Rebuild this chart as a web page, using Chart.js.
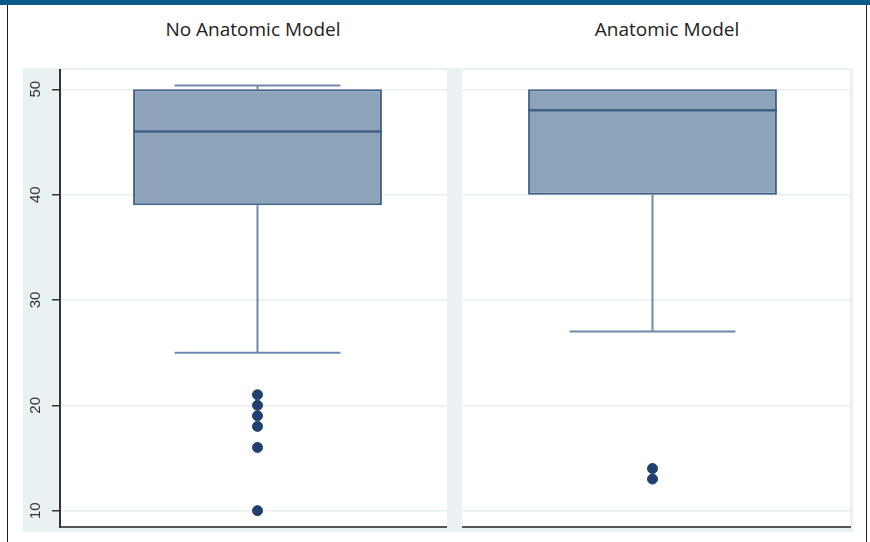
<!DOCTYPE html>
<html>
<head>
<meta charset="utf-8">
<script src="https://cdn.jsdelivr.net/npm/chart.js@4.4.1/dist/chart.umd.min.js"></script>
<style>
    body { margin: 0; background: #fff; }
    #wrap { position: relative; width: 870px; height: 542px; overflow: hidden; }
    #topbar { position: absolute; left: 0; top: 0; width: 870px; height: 5px; background: #0b5a88; }
    .side { position: absolute; top: 5px; width: 1px; height: 537px; background: #222; }
    .panel-title { position: absolute; top: 16px; font-family: "Open Sans", sans-serif; font-size: 19px; color: #222; transform: translateX(-50%); white-space: nowrap; }
    canvas { position: absolute; left: 0; top: 0; }
</style>
</head>
<body>
<div id="wrap">
    <div id="topbar"></div>
    <div class="side" style="left:7px"></div>
    <div class="side" style="left:866px"></div>
    <div class="panel-title" style="left:253px">No Anatomic Model</div>
    <div class="panel-title" style="left:667px">Anatomic Model</div>
    <canvas id="boxChart" width="870" height="542"></canvas>
</div>
<script>
// Box plot data
const categories = ['No Anatomic Model', 'Anatomic Model'];
const whiskerLow = [25, 27];
const q1 = [39, 40];
const median = [46, 48];
const q3 = [50, 50];
const whiskerHigh = [50.35, 50];
const outliersNoModel = [21, 20, 19, 18, 16, 10];
const outliersModel = [14, 13];
const yTicks = [10, 20, 30, 40, 50];

const boxFill = '#8ca3b9';
const boxLine = '#3f6088';
const whiskerColor = '#6c8aab';
const panelGray = '#eaf1f2';

// background panels, separator strip and the whiskers
const panelPlugin = {
    id: 'panels',
    beforeDraw(chart) {
        const { ctx, chartArea: a } = chart;
        ctx.save();
        ctx.fillStyle = panelGray;
        ctx.fillRect(23, a.top - 2, a.right + 3 - 23, a.bottom + 5 - (a.top - 2));
        ctx.fillStyle = '#fff';
        ctx.fillRect(a.left, a.top, a.right - a.left, a.bottom - a.top);
        ctx.restore();
    },
    beforeDatasetsDraw(chart) {
        const { ctx, chartArea: a, scales } = chart;
        const mid = (scales.x.getPixelForValue(0) + scales.x.getPixelForValue(1)) / 2;
        ctx.save();
        ctx.fillStyle = panelGray;
        ctx.fillRect(mid - 8, a.top - 2, 15, a.bottom + 5 - (a.top - 2));

        // whiskers and caps
        const y = scales.y;
        const boxes = chart.getDatasetMeta(0).data;
        ctx.strokeStyle = whiskerColor;
        ctx.lineWidth = 2;
        categories.forEach((c, i) => {
            const bar = boxes[i];
            const cx = bar.x;
            const capHalf = bar.width / 3;
            ctx.beginPath();
            ctx.moveTo(cx, y.getPixelForValue(q1[i]));
            ctx.lineTo(cx, y.getPixelForValue(whiskerLow[i]));
            ctx.moveTo(cx - capHalf, y.getPixelForValue(whiskerLow[i]));
            ctx.lineTo(cx + capHalf, y.getPixelForValue(whiskerLow[i]));
            if (whiskerHigh[i] > q3[i]) {
                ctx.moveTo(cx, y.getPixelForValue(q3[i]));
                ctx.lineTo(cx, y.getPixelForValue(whiskerHigh[i]));
                ctx.moveTo(cx - capHalf, y.getPixelForValue(whiskerHigh[i]));
                ctx.lineTo(cx + capHalf, y.getPixelForValue(whiskerHigh[i]));
            }
            ctx.stroke();
        });
        ctx.restore();
    },
    afterDatasetsDraw(chart) {
        const { ctx, scales } = chart;
        const boxes = chart.getDatasetMeta(0).data;
        ctx.save();
        ctx.strokeStyle = boxLine;
        ctx.lineWidth = 2.5;
        categories.forEach((c, i) => {
            const bar = boxes[i];
            const my = scales.y.getPixelForValue(median[i]);
            ctx.beginPath();
            ctx.moveTo(bar.x - bar.width / 2, my);
            ctx.lineTo(bar.x + bar.width / 2, my);
            ctx.stroke();
        });
        ctx.restore();
    }
};

const boxCtx = document.getElementById('boxChart').getContext('2d');

const boxChart = new Chart(boxCtx, {
    type: 'bar',
    data: {
        labels: categories,
        datasets: [
            {
                data: categories.map((c, i) => [q1[i], q3[i]]),
                backgroundColor: boxFill,
                borderColor: boxLine,
                borderWidth: 2,
                borderSkipped: false,
                categoryPercentage: 1,
                barPercentage: 0.63,
                order: 2
            },
            {
                type: 'scatter',
                data: [
                    ...outliersNoModel.map(v => ({ x: categories[0], y: v })),
                    ...outliersModel.map(v => ({ x: categories[1], y: v }))
                ],
                backgroundColor: '#1f4070',
                borderColor: '#1f4070',
                pointRadius: 5,
                order: 1
            }
        ]
    },
    options: {
        responsive: false,
        animation: false,
        layout: {
            padding: { left: 23, top: 70, right: 20, bottom: 15 }
        },
        plugins: {
            legend: { display: false },
            tooltip: { enabled: false }
        },
        scales: {
            x: {
                type: 'category',
                grid: { display: false, drawTicks: false },
                border: { display: true, color: '#555', width: 2 },
                ticks: { display: false },
                afterFit: scale => { scale.height = 0; }
            },
            y: {
                min: 8.45,
                max: 51.83,
                afterBuildTicks: scale => {
                    scale.ticks = yTicks.map(v => ({ value: v }));
                },
                afterFit: scale => {
                    scale.width = 37;
                    scale.paddingTop = 0;
                    scale.paddingBottom = 0;
                },
                grid: {
                    color: '#e6eff0',
                    lineWidth: 1.5,
                    tickColor: '#333',
                    tickLength: 8
                },
                border: { display: true, color: '#333', width: 2 },
                ticks: {
                    minRotation: 90,
                    maxRotation: 90,
                    crossAlign: 'center',
                    padding: 8,
                    color: '#333',
                    font: { family: 'Liberation Sans, Arial, sans-serif', size: 15 }
                }
            }
        }
    },
    plugins: [panelPlugin]
});
</script>
</body>
</html>
